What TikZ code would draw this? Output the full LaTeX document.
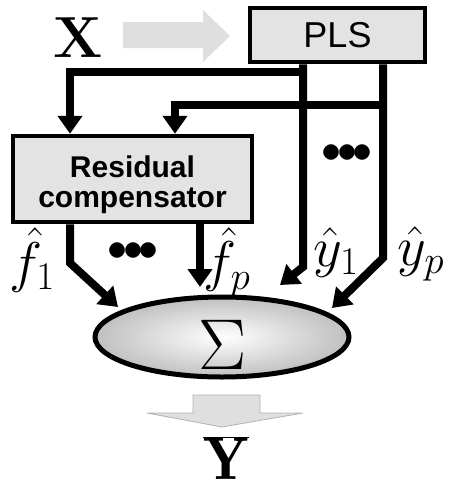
\documentclass[tikz,border=0pt]{standalone}
\usepackage{fix-cm}
\usepackage{fontspec}
\setsansfont{Liberation Sans}
\usetikzlibrary{arrows.meta,shapes.geometric,calc}
\begin{document}
\begin{tikzpicture}[x=1pt,y=-1pt,
  conn/.style={line width=8pt, -{Triangle[width=24pt,length=18pt]}},
  box/.style={draw, line width=4.5pt, fill=gray!22, rectangle, inner sep=0pt},
  mlabel/.style={font=\fontsize{56}{60}\selectfont, inner sep=0pt},
  dotsnode/.style={font=\fontsize{40}{40}\selectfont, inner sep=0pt}
]
\useasboundingbox (0,0) rectangle (451,491);

% big gray input arrow
\fill[gray!25] (123,22) -- (203,22) -- (203,10) -- (230,36) -- (203,62) -- (203,48) -- (123,48) -- cycle;

\node[font=\bfseries\fontsize{58}{60}\selectfont, inner sep=0pt] (X) at (78,38) {X};

\node[box, minimum width=175pt, minimum height=54pt, font=\sffamily\fontsize{36}{40}\selectfont] (PLS) at (337.5,35) {PLS};
\node[box, minimum width=239pt, minimum height=86pt,
      label={[yshift=-6pt, align=center, font=\sffamily\bfseries\fontsize{30}{30}\selectfont]center:Residual\\compensator}] (RC) at (132.5,179) {};

\node[ellipse, draw, line width=5pt, minimum width=254pt, minimum height=80pt, inner sep=0pt,
      shading=radial, inner color=white, outer color=gray!50] (S) at (222,337) {};
\node[font=\fontsize{72}{76}\selectfont, inner sep=0pt] (sig) at (223,345) {$\Sigma$};

% coordinates
\coordinate (in1) at (70,0);
\coordinate (in2) at (175,0);
\coordinate (h1) at (303,72);
\coordinate (h2) at (383,105);
\coordinate (k1) at (70,263);
\coordinate (e1) at (118,307);
\coordinate (e2) at (200,287);
\coordinate (k3) at (303,267);
\coordinate (e3) at (280,285);
\coordinate (k4) at (383,258);
\coordinate (e4) at (332,308);

% PLS to residual compensator
\draw[conn] (h1) -| (in1 |- RC.north);
\draw[conn] (h2) -| (in2 |- RC.north);
% PLS outputs
\draw[conn] (k3 |- PLS.south) -- (k3) -- (e3);
\draw[conn] (k4 |- PLS.south) -- (k4) -- (e4);
% compensator outputs
\draw[conn] (k1 |- RC.south) -- (k1) -- (e1);
\draw[conn] (e2 |- RC.south) -- (e2);

% labels
\node[mlabel] (lf1) at (32,260) {$\hat f_1$};
\node[mlabel] (lfp) at (227,262) {$\hat f_p$};
\node[mlabel] (ly1) at (336,252) {$\hat y_1$};
\node[mlabel] (lyp) at (421,254) {$\hat y_p$};

\node[dotsnode] (d1) at (347,154) {$\bullet\mkern-6mu\bullet\mkern-6mu\bullet$};
\node[dotsnode] (d2) at (133,252) {$\bullet\mkern-6mu\bullet\mkern-6mu\bullet$};

% output arrow
\draw[gray!60, fill=gray!25, line width=0.8pt] (193,395) -- (260,395) -- (260,413) -- (303,413) -- (222,427) -- (147,413) -- (193,413) -- cycle;

\node[font=\fontsize{60}{64}\selectfont, inner sep=0pt] (Yout) at (226,458) {$\overline{\mathbf{Y}}$};
\end{tikzpicture}
\end{document}
